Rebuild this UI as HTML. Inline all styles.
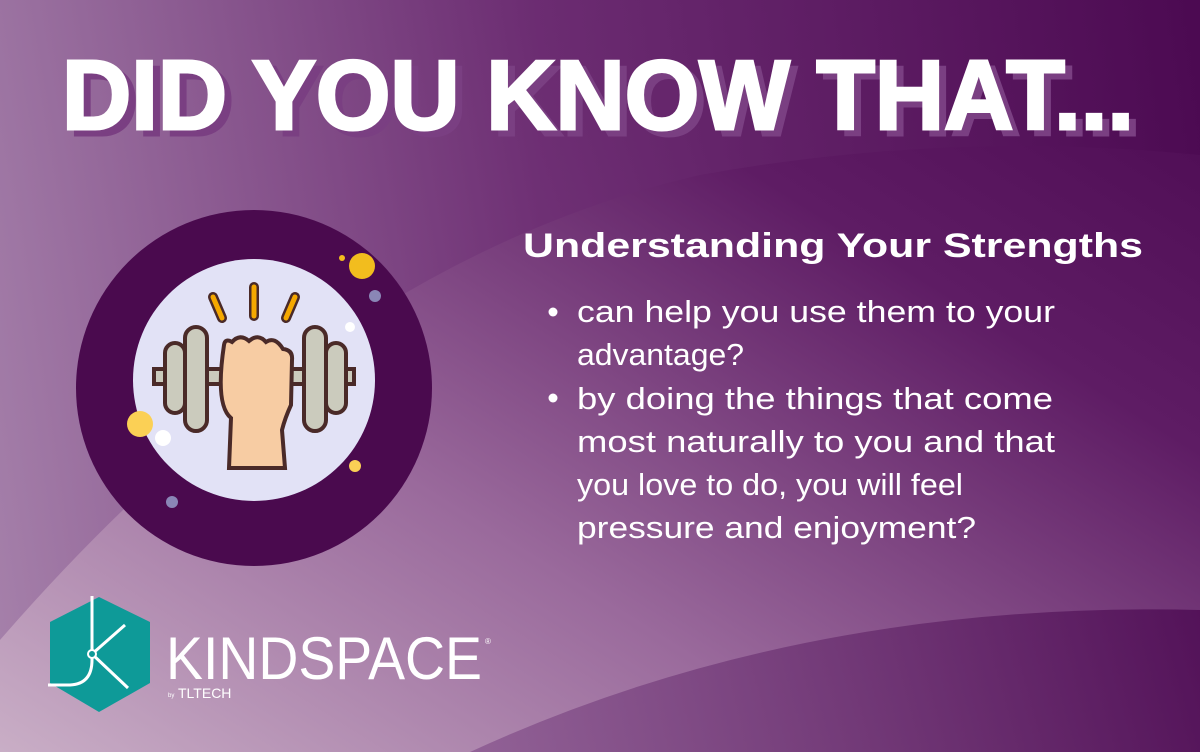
<!DOCTYPE html>
<html><head><meta charset="utf-8"><style>html,body{margin:0;padding:0;width:1200px;height:752px;overflow:hidden}</style></head>
<body>
<svg width="1200" height="752" viewBox="0 0 1200 752" xmlns="http://www.w3.org/2000/svg" font-family="Liberation Sans, sans-serif">
<defs>
<linearGradient id="bg" x1="0" y1="1" x2="1" y2="0">
<stop offset="0" stop-color="#c9aec6"/><stop offset="0.35" stop-color="#9a6a9c"/><stop offset="0.7" stop-color="#5e1c64"/><stop offset="1" stop-color="#4a0850"/></linearGradient>
<linearGradient id="dk" x1="0" y1="0" x2="1" y2="0">
<stop offset="0" stop-color="#a07aa6"/><stop offset="0.45" stop-color="#6e2f74"/><stop offset="1" stop-color="#4c0a52"/></linearGradient>
<linearGradient id="br" x1="0" y1="0" x2="1" y2="0">
<stop offset="0" stop-color="#8a5890"/><stop offset="1" stop-color="#4c0a52"/></linearGradient>
</defs>
<rect width="1200" height="752" fill="url(#bg)"/>
<path d="M0 0 H1200 V155 Q950 130 700 175 Q330 260 0 640 Z" fill="url(#dk)" opacity="0.85"/>
<path d="M470 752 Q800 600 1200 610 V752 Z" fill="url(#br)" opacity="0.8"/>
<g font-weight="bold" font-size="98">
<text x="69" y="135" fill="#7a3f82" stroke="#7a3f82" stroke-width="3" textLength="1072" lengthAdjust="spacingAndGlyphs">DID YOU KNOW THAT...</text>
<text x="62" y="129" fill="#ffffff" stroke="#ffffff" stroke-width="3" textLength="1072" lengthAdjust="spacingAndGlyphs">DID YOU KNOW THAT...</text>
</g>
<g>
<circle cx="254" cy="388" r="178" fill="#4a0a4e"/>
<circle cx="254" cy="380" r="121" fill="#e2e2f6"/>
<circle cx="362" cy="266" r="13" fill="#f2bd1e"/><circle cx="342" cy="258" r="3" fill="#f2bd1e"/>
<circle cx="375" cy="296" r="6" fill="#8a86b6"/><circle cx="350" cy="327" r="5" fill="#fff"/>
<circle cx="140" cy="424" r="13" fill="#fbd055"/><circle cx="163" cy="438" r="8" fill="#fff"/>
<circle cx="355" cy="466" r="6" fill="#fbd055"/><circle cx="172" cy="502" r="6" fill="#8a86b6"/>
<g stroke="#4a2a28" stroke-width="4" stroke-linecap="round">
<rect x="154" y="369" width="200" height="15" fill="#cbcbbd"/>
<rect x="165" y="343" width="20" height="70" rx="10" fill="#cbcbbd"/>
<rect x="185" y="327" width="22" height="104" rx="11" fill="#cbcbbd"/>
<rect x="304" y="327" width="22" height="104" rx="11" fill="#cbcbbd"/>
<rect x="326" y="343" width="20" height="70" rx="10" fill="#cbcbbd"/>
<path d="M229 468 L231 418 Q215 405 224 345 Q225 338 232 342 Q240 333 249 341 Q258 333 266 342 Q275 336 283 349 Q293 350 292 360 L291 405 Q285 418 282 430 L285 468 Z" fill="#f7cca3"/>
<line x1="213" y1="297" x2="222" y2="318" stroke="#4a2a28" stroke-width="10"/>
<line x1="254" y1="287" x2="254" y2="316" stroke="#4a2a28" stroke-width="10"/>
<line x1="295" y1="297" x2="286" y2="318" stroke="#4a2a28" stroke-width="10"/>
</g>
<g stroke="#f5a800" stroke-width="5" stroke-linecap="round">
<line x1="213" y1="297" x2="222" y2="318"/><line x1="254" y1="287" x2="254" y2="316"/><line x1="295" y1="297" x2="286" y2="318"/>
</g>
</g>
<text x="523" y="257" fill="#fff" font-weight="bold" font-size="34" textLength="620" lengthAdjust="spacingAndGlyphs">Understanding Your Strengths</text>
<g fill="#fff" font-size="31">
<circle cx="553" cy="312" r="4.5"/><circle cx="553" cy="398" r="4.5"/>
<text x="577" y="322" textLength="478" lengthAdjust="spacingAndGlyphs">can help you use them to your</text>
<text x="577" y="365" textLength="167" lengthAdjust="spacingAndGlyphs">advantage?</text>
<text x="577" y="409" textLength="476" lengthAdjust="spacingAndGlyphs">by doing the things that come</text>
<text x="577" y="452" textLength="478" lengthAdjust="spacingAndGlyphs">most naturally to you and that</text>
<text x="577" y="495" textLength="386" lengthAdjust="spacingAndGlyphs">you love to do, you will feel</text>
<text x="577" y="538" textLength="399" lengthAdjust="spacingAndGlyphs">pressure and enjoyment?</text>
</g>
<g>
<polygon points="99,597 150,622 150,683 99,712 50,683 50,622" fill="#0e9a98"/>
<g stroke="#fff" stroke-width="3" fill="none">
<path d="M92 596 V660 Q92 684 70 685 H48"/>
<line x1="92" y1="654" x2="125" y2="625"/><line x1="92" y1="654" x2="128" y2="688"/>
</g>
<circle cx="92" cy="654" r="4" fill="#0e9a98" stroke="#fff" stroke-width="2"/>
<text x="166" y="679" fill="#fff" font-size="60" textLength="316" lengthAdjust="spacingAndGlyphs">KINDSPACE</text>
<text x="485" y="644" fill="#fff" font-size="8">®</text>
<text x="168" y="697" fill="#fff" font-size="6">by</text>
<text x="178" y="698" fill="#fff" font-size="14">TLTECH</text>
</g>
</svg>
</body></html>
